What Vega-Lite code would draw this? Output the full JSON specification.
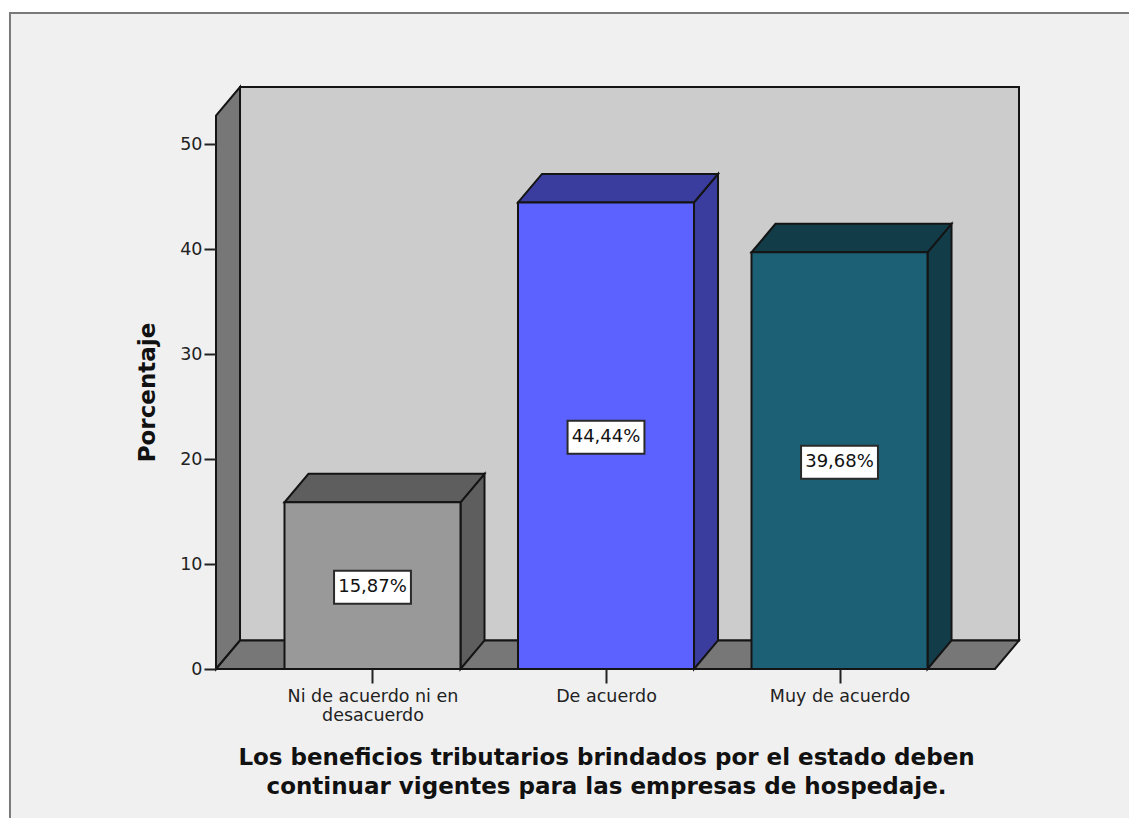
{
"$schema":"https://vega.github.io/schema/vega-lite/v6.json",
"width":803,"height":582,
"autosize":{"type":"none"},
"padding":{"left":216,"top":87,"right":110,"bottom":149},
"background":"white",
"config":{"view":{"stroke":null},"font":"DejaVu Sans"},
"datasets":{
"bars":[
{"pos":1,"value":15.87,"mid":7.93,"label":"15,87%","face":"gris"},
{"pos":2,"value":44.44,"mid":22.22,"label":"44,44%","face":"azul"},
{"pos":3,"value":39.68,"mid":19.84,"label":"39,68%","face":"verde"}],
"frame":[
{"pos":-0.5525,"value":-16,"value2":62.48,"poly":"fondo","face":"fondo"},
{"pos":4.4,"value":-16,"value2":62.48,"poly":"fondo","face":"fondo"}],
"faces":[
{"pos":0.4326,"value":2.714,"value2":55.43,"poly":"pared","face":"pared"},
{"pos":3.7687,"value":2.714,"value2":55.43,"poly":"pared","face":"pared"},
{"pos":0.3298,"value":0,"value2":52.71,"poly":"izq","face":"lateral"},
{"pos":0.4326,"value":2.714,"value2":55.43,"poly":"izq","face":"lateral"},
{"pos":0.3298,"value":0,"value2":0,"poly":"suelo","face":"lateral"},
{"pos":0.4326,"value":0,"value2":2.714,"poly":"suelo","face":"lateral"},
{"pos":3.6659,"value":0,"value2":2.714,"poly":"suelo","face":"lateral"},
{"pos":3.7687,"value":2.714,"value2":2.714,"poly":"suelo","face":"lateral"},
{"pos":1.3769,"value":0,"value2":15.87,"poly":"lado1","face":"gris oscuro"},
{"pos":1.4797,"value":2.714,"value2":18.584,"poly":"lado1","face":"gris oscuro"},
{"pos":0.6231,"value":15.87,"value2":15.87,"poly":"techo1","face":"gris oscuro"},
{"pos":0.7259,"value":15.87,"value2":18.584,"poly":"techo1","face":"gris oscuro"},
{"pos":1.3769,"value":15.87,"value2":18.584,"poly":"techo1","face":"gris oscuro"},
{"pos":1.4797,"value":18.584,"value2":18.584,"poly":"techo1","face":"gris oscuro"},
{"pos":2.3769,"value":0,"value2":44.44,"poly":"lado2","face":"azul oscuro"},
{"pos":2.4797,"value":2.714,"value2":47.154,"poly":"lado2","face":"azul oscuro"},
{"pos":1.6231,"value":44.44,"value2":44.44,"poly":"techo2","face":"azul oscuro"},
{"pos":1.7259,"value":44.44,"value2":47.154,"poly":"techo2","face":"azul oscuro"},
{"pos":2.3769,"value":44.44,"value2":47.154,"poly":"techo2","face":"azul oscuro"},
{"pos":2.4797,"value":47.154,"value2":47.154,"poly":"techo2","face":"azul oscuro"},
{"pos":3.3769,"value":0,"value2":39.68,"poly":"lado3","face":"verde oscuro"},
{"pos":3.4797,"value":2.714,"value2":42.394,"poly":"lado3","face":"verde oscuro"},
{"pos":2.6231,"value":39.68,"value2":39.68,"poly":"techo3","face":"verde oscuro"},
{"pos":2.7259,"value":39.68,"value2":42.394,"poly":"techo3","face":"verde oscuro"},
{"pos":3.3769,"value":39.68,"value2":42.394,"poly":"techo3","face":"verde oscuro"},
{"pos":3.4797,"value":42.394,"value2":42.394,"poly":"techo3","face":"verde oscuro"}]
},
"encoding":{
"x":{"field":"pos","type":"quantitative","scale":{"domain":[0.3298,3.7687],"nice":false,"zero":false,"padding":0},
"axis":{"values":[1,2,3],"grid":false,"domain":false,"zindex":1,"tickSize":14,"tickWidth":2,"tickColor":"#222222","labelFont":"DejaVu Sans","labelFontSize":17.5,"labelColor":"#222222","labelPadding":4,"labelLineHeight":19,"labelOverlap":false,"labelFlush":false,"labelBound":false,"labelExpr":"datum.value==1?['Ni de acuerdo ni en','desacuerdo']:datum.value==2?'De acuerdo':'Muy de acuerdo'",
"title":["Los beneficios tributarios brindados por el estado deben","continuar vigentes para las empresas de hospedaje."],"titleFont":"DejaVu Sans","titleFontWeight":"bold","titleFontSize":23,"titleLineHeight":29,"titleColor":"#111111","titleX":390,"titleY":95,"titleAnchor":"middle","titleBaseline":"alphabetic"}},
"y":{"field":"value","type":"quantitative","scale":{"domain":[0,55.43],"nice":false},
"axis":{"values":[0,10,20,30,40,50],"grid":false,"domain":false,"zindex":1,"tickSize":12,"tickWidth":2,"tickColor":"#222222","labelFont":"DejaVu Sans","labelFontSize":17.5,"labelColor":"#222222","labelPadding":2,
"title":"Porcentaje","titleFont":"DejaVu Sans","titleFontWeight":"bold","titleFontSize":23,"titleColor":"#111111","titleX":-57,"titleY":305,"titleAnchor":"middle"}}
},
"layer":[
{"data":{"name":"frame"},
"mark":{"type":"area","orient":"vertical","fill":"#f0f0f0","stroke":"#7a7a7a","strokeWidth":2},
"encoding":{"y":{"field":"value","type":"quantitative","stack":null,"scale":{"domain":[0,55.43],"nice":false},"axis":{"values":[0,10,20,30,40,50],"grid":false,"domain":false,"zindex":1,"tickSize":12,"tickWidth":2,"tickColor":"#222222","labelFont":"DejaVu Sans","labelFontSize":17.5,"labelColor":"#222222","labelPadding":2,"title":"Porcentaje","titleFont":"DejaVu Sans","titleFontWeight":"bold","titleFontSize":23,"titleColor":"#111111","titleX":-57,"titleY":305,"titleAnchor":"middle"}},"y2":{"field":"value2"}}},
{"data":{"name":"faces"},
"mark":{"type":"area","orient":"vertical","stroke":"#141414","strokeWidth":2,"strokeJoin":"miter","opacity":1,"fillOpacity":1},
"encoding":{"y":{"field":"value","type":"quantitative","stack":null,"scale":{"domain":[0,55.43],"nice":false},"axis":{"values":[0,10,20,30,40,50],"grid":false,"domain":false,"zindex":1,"tickSize":12,"tickWidth":2,"tickColor":"#222222","labelFont":"DejaVu Sans","labelFontSize":17.5,"labelColor":"#222222","labelPadding":2,"title":"Porcentaje","titleFont":"DejaVu Sans","titleFontWeight":"bold","titleFontSize":23,"titleColor":"#111111","titleX":-57,"titleY":305,"titleAnchor":"middle"}},"y2":{"field":"value2"},"detail":{"field":"poly"},
"fill":{"field":"face","type":"nominal","legend":null,"scale":{"domain":["pared","lateral","gris oscuro","azul oscuro","verde oscuro","gris","azul","verde"],"range":["#cccccc","#777777","#5e5e5e","#3a3d9e","#123c48","#999999","#5b62ff","#1c6075"]}}}},
{"data":{"name":"bars"},
"mark":{"type":"bar","orient":"vertical","size":176,"stroke":"#141414","strokeWidth":2,"opacity":1},
"encoding":{"y":{"field":"value","type":"quantitative","stack":null,"scale":{"domain":[0,55.43],"nice":false},"axis":{"values":[0,10,20,30,40,50],"grid":false,"domain":false,"zindex":1,"tickSize":12,"tickWidth":2,"tickColor":"#222222","labelFont":"DejaVu Sans","labelFontSize":17.5,"labelColor":"#222222","labelPadding":2,"title":"Porcentaje","titleFont":"DejaVu Sans","titleFontWeight":"bold","titleFontSize":23,"titleColor":"#111111","titleX":-57,"titleY":305,"titleAnchor":"middle"}},
"fill":{"field":"face","type":"nominal","legend":null,"scale":{"domain":["pared","lateral","gris oscuro","azul oscuro","verde oscuro","gris","azul","verde"],"range":["#cccccc","#777777","#5e5e5e","#3a3d9e","#123c48","#999999","#5b62ff","#1c6075"]}}}},
{"data":{"name":"bars"},
"mark":{"type":"point","filled":true,"fill":"white","fillOpacity":1,"opacity":1,"stroke":"#2a2a2a","strokeWidth":2,"size":1089,"yOffset":1.5,"shape":"M-2.33,-1H2.33V1H-2.33Z"},
"encoding":{"y":{"field":"mid","type":"quantitative","scale":{"domain":[0,55.43],"nice":false},"axis":{"values":[0,10,20,30,40,50],"grid":false,"domain":false,"zindex":1,"tickSize":12,"tickWidth":2,"tickColor":"#222222","labelFont":"DejaVu Sans","labelFontSize":17.5,"labelColor":"#222222","labelPadding":2,"title":"Porcentaje","titleFont":"DejaVu Sans","titleFontWeight":"bold","titleFontSize":23,"titleColor":"#111111","titleX":-57,"titleY":305,"titleAnchor":"middle"}}}},
{"data":{"name":"bars"},
"mark":{"type":"text","font":"DejaVu Sans","fontSize":18,"color":"#111111","align":"center","baseline":"middle","yOffset":1.5},
"encoding":{"y":{"field":"mid","type":"quantitative","scale":{"domain":[0,55.43],"nice":false},"axis":{"values":[0,10,20,30,40,50],"grid":false,"domain":false,"zindex":1,"tickSize":12,"tickWidth":2,"tickColor":"#222222","labelFont":"DejaVu Sans","labelFontSize":17.5,"labelColor":"#222222","labelPadding":2,"title":"Porcentaje","titleFont":"DejaVu Sans","titleFontWeight":"bold","titleFontSize":23,"titleColor":"#111111","titleX":-57,"titleY":305,"titleAnchor":"middle"}},"text":{"field":"label"}}}
]
}
